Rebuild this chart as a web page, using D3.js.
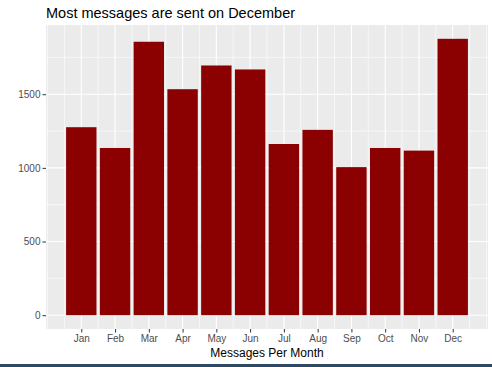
<!DOCTYPE html>
<html>
<head>
<meta charset="utf-8">
<script src="https://cdn.jsdelivr.net/npm/d3@7"></script>
<style>
  body { margin: 0; background: #fff; }
  svg { display: block; font-family: "Liberation Sans", Arial, sans-serif; }
</style>
</head>
<body>
<svg id="chart" width="492" height="367"></svg>
<script>
const months = ["Jan", "Feb", "Mar", "Apr", "May", "Jun", "Jul", "Aug", "Sep", "Oct", "Nov", "Dec"]
const counts = [1276, 1135, 1856, 1534, 1695, 1668, 1162, 1258, 1005, 1135, 1117, 1876]
const yTicks = [0, 500, 1000, 1500]
const yMinor = [250, 750, 1250, 1750]

const W = 492, H = 367
const panel = { left: 46, top: 25, right: 488, bottom: 329 }

const svg = d3.select("#chart")

// continuous month axis, like ggplot with 5% expansion
const barW = 0.9
const xLo = 1 - barW / 2, xHi = 12 + barW / 2
const xPad = (xHi - xLo) * 0.05
const x = d3.scaleLinear().domain([xLo - xPad, xHi + xPad]).range([panel.left, panel.right])

const yMax = d3.max(counts)
const y = d3.scaleLinear().domain([-yMax * 0.05, yMax * 1.05]).range([panel.bottom, panel.top])

// panel background
svg.append("rect")
  .attr("x", panel.left).attr("y", panel.top)
  .attr("width", panel.right - panel.left).attr("height", panel.bottom - panel.top)
  .attr("fill", "#EBEBEB")

const grid = svg.append("g")
const xMinor = d3.range(0, 13.5, 0.5).filter(v => !(v >= 1 && v <= 12 && v % 1 === 0))

grid.selectAll(".yminor").data(yMinor).join("line")
  .attr("x1", panel.left).attr("x2", panel.right)
  .attr("y1", d => y(d)).attr("y2", d => y(d))
  .attr("stroke", "#fff").attr("stroke-width", 0.6)
grid.selectAll(".xminor").data(xMinor).join("line")
  .attr("y1", panel.top).attr("y2", panel.bottom)
  .attr("x1", d => x(d)).attr("x2", d => x(d))
  .attr("stroke", "#fff").attr("stroke-width", 0.6)
grid.selectAll(".ymajor").data(yTicks).join("line")
  .attr("x1", panel.left).attr("x2", panel.right)
  .attr("y1", d => y(d)).attr("y2", d => y(d))
  .attr("stroke", "#fff").attr("stroke-width", 1.1)
grid.selectAll(".xmajor").data(d3.range(1, 13)).join("line")
  .attr("y1", panel.top).attr("y2", panel.bottom)
  .attr("x1", d => x(d)).attr("x2", d => x(d))
  .attr("stroke", "#fff").attr("stroke-width", 1.1)

// bars
svg.append("g").selectAll("rect").data(counts).join("rect")
  .attr("x", (d, i) => x(i + 1 - barW / 2))
  .attr("width", (d, i) => x(i + 1 + barW / 2) - x(i + 1 - barW / 2))
  .attr("y", d => y(d))
  .attr("height", d => y(0) - y(d))
  .attr("fill", "#8B0000")

// axes
const xAxis = svg.append("g").attr("transform", `translate(0,${panel.bottom})`)
  .call(d3.axisBottom(x).tickValues(d3.range(1, 13)).tickFormat(d => months[d - 1]).tickSize(3.5).tickPadding(2))
const yAxis = svg.append("g").attr("transform", `translate(${panel.left},0)`)
  .call(d3.axisLeft(y).tickValues(yTicks).tickFormat(d3.format("d")).tickSize(3.5).tickPadding(2))

for (const ax of [xAxis, yAxis]) {
  ax.select(".domain").remove()
  ax.selectAll(".tick line").attr("stroke", "#333").attr("stroke-width", 1)
  ax.selectAll(".tick text").attr("fill", "#4D4D4D").attr("font-size", 10)
    .attr("font-family", "Liberation Sans, Arial, sans-serif")
}

// titles
svg.append("text")
  .attr("x", panel.left).attr("y", 18)
  .attr("font-size", 14.5).attr("fill", "#000")
  .text("Most messages are sent on December")

svg.append("text")
  .attr("x", (panel.left + panel.right) / 2).attr("y", 356.5)
  .attr("text-anchor", "middle")
  .attr("font-size", 12).attr("fill", "#000")
  .text("Messages Per Month")

// dark strip at the bottom edge of the screenshot
svg.append("rect")
  .attr("x", 0).attr("y", 364).attr("width", W).attr("height", 3)
  .attr("fill", "#2C4A63")
</script>
</body>
</html>
